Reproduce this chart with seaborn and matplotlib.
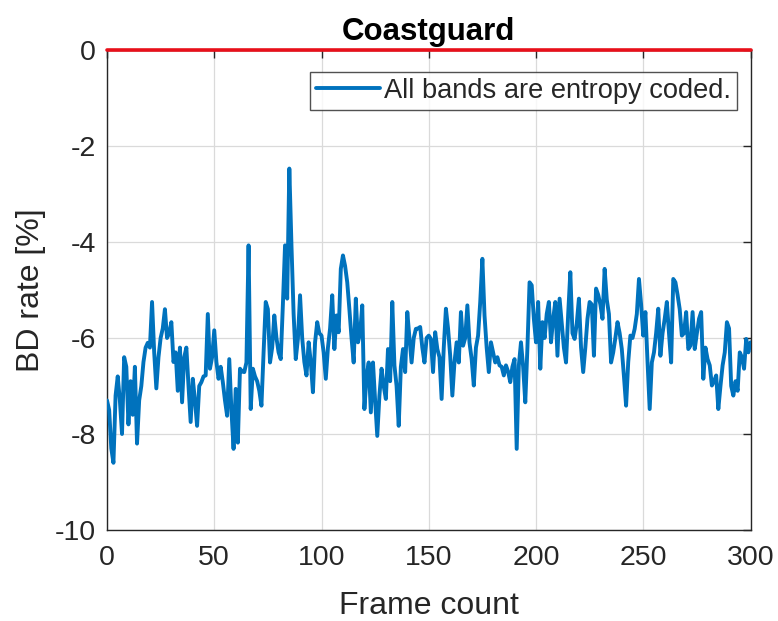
import numpy as np
import pandas as pd
import matplotlib
matplotlib.use("Agg")
import matplotlib.pyplot as plt
import seaborn as sns

title = "Coastguard"
xlabel = "Frame count"
ylabel = "BD rate [%]"
legend_label = "All bands are entropy coded."
xticks = [0, 50, 100, 150, 200, 250, 300]
yticks = [0, -2, -4, -6, -8, -10]

frames = list(range(0, 301))
bd_rate = [
    -7.3, -7.5, -8.3, -8.6, -7.2, -6.8, -7.3, -8.0, -6.4, -6.6,
    -7.8, -6.9, -7.6, -6.6, -8.2, -7.3, -7.0, -6.5, -6.2, -6.1,
    -6.2, -5.25, -6.3, -7.05, -6.4, -6.0, -5.8, -5.4, -6.0, -5.9,
    -5.67, -6.5, -6.3, -7.1, -6.2, -7.34, -6.4, -6.2, -7.0, -7.75,
    -6.85, -7.3, -7.83, -7.0, -6.92, -6.8, -6.78, -5.5, -6.64, -6.4,
    -5.84, -6.5, -6.85, -6.6, -6.92, -7.3, -7.62, -6.44, -7.5, -8.31,
    -7.06, -8.18, -6.64, -6.7, -6.71, -6.51, -4.07, -7.48, -6.64, -6.8,
    -6.9, -7.1, -7.41, -6.3, -5.25, -5.4, -6.51, -6.2, -5.53, -6.0,
    -6.3, -6.44, -5.3, -4.07, -5.18, -2.47, -4.07, -5.5, -6.44, -6.02,
    -5.11, -6.0, -6.5, -6.78, -6.09, -6.5, -7.13, -6.09, -5.67, -5.9,
    -5.95, -6.3, -6.85, -6.2, -5.8, -5.11, -6.23, -5.53, -5.88, -4.56,
    -4.28, -4.5, -4.84, -5.4, -6.0, -6.51, -5.18, -6.09, -5.9, -5.32,
    -7.48, -6.8, -6.51, -7.55, -6.51, -7.3, -8.04, -7.2, -6.64, -7.0,
    -7.27, -6.23, -6.9, -5.25, -6.57, -7.0, -7.83, -6.6, -6.23, -6.71,
    -5.46, -6.0, -6.51, -6.0, -5.81, -5.8, -5.77, -6.2, -6.51, -6.0,
    -5.95, -6.02, -6.71, -5.88, -6.23, -6.4, -7.27, -6.2, -5.39, -5.8,
    -6.37, -7.2, -6.5, -6.09, -6.51, -5.46, -6.16, -6.0, -5.32, -6.1,
    -6.44, -6.99, -6.2, -5.95, -5.25, -4.35, -5.53, -6.2, -6.71, -6.09,
    -6.3, -6.51, -6.4, -6.57, -6.6, -6.78, -6.57, -6.7, -6.92, -6.6,
    -6.44, -8.31, -6.57, -6.09, -6.6, -7.34, -6.2, -4.84, -4.9, -5.6,
    -6.09, -5.25, -6.64, -5.67, -6.0, -5.5, -5.25, -6.09, -5.6, -5.25,
    -6.37, -5.18, -5.7, -6.2, -6.51, -5.5, -4.63, -5.9, -6.02, -5.7,
    -5.18, -6.2, -6.71, -6.2, -5.6, -5.25, -5.3, -6.37, -4.97, -5.1,
    -5.3, -5.6, -4.56, -5.2, -5.5, -6.51, -6.3, -6.0, -5.67, -5.9,
    -6.23, -6.8, -7.41, -6.5, -5.95, -6.0, -5.81, -5.5, -4.77, -5.3,
    -5.95, -5.46, -6.5, -7.48, -6.51, -6.3, -5.9, -5.39, -6.37, -5.9,
    -5.6, -5.25, -5.9, -6.51, -4.77, -4.84, -5.1, -5.4, -5.95, -5.9,
    -5.46, -6.23, -6.16, -5.46, -6.23, -5.9, -5.6, -5.46, -6.85, -6.2,
    -6.44, -6.57, -6.99, -6.9, -6.78, -7.48, -7.0, -6.57, -6.3, -5.67,
    -5.8, -7.0, -7.2, -6.9, -7.1, -6.3, -6.4, -6.64, -6.02, -6.3, -6.09,
]
reference_line = [0.0, 0.0]
reference_x = [0, 300]

sns.set_theme(style="white")
plt.rcParams["font.family"] = ["Liberation Sans", "DejaVu Sans"]
plt.rcParams["axes.unicode_minus"] = False

df = pd.DataFrame({"frame": frames, "bd": bd_rate})

fig = plt.figure(figsize=(7.78, 6.21), dpi=100)
ax = fig.add_axes([107 / 778, 1 - 530 / 621, (750.5 - 107) / 778, 480 / 621])

sns.lineplot(data=df, x="frame", y="bd", ax=ax, color="#0072BD",
             linewidth=2.8, label=legend_label, zorder=3)
ax.plot(reference_x, reference_line, color="#E8101A", linewidth=2.6,
        clip_on=False, zorder=5)

ax.set_xlim(0, 300)
ax.set_ylim(-10, 0)
ax.set_xticks(xticks)
ax.set_yticks(yticks)
ax.grid(True, color="#DADADA", linewidth=0.9)
ax.tick_params(axis="both", direction="in", length=6, width=1.0,
               labelsize=20.5, colors="#262626",
               top=True, right=True, labeltop=False, labelright=False)
ax.tick_params(axis="x", pad=11)
ax.tick_params(axis="y", pad=8)
for s in ax.spines.values():
    s.set_color("#262626")
    s.set_linewidth(1.0)

ax.set_xlabel(xlabel, fontsize=23, color="#262626", labelpad=14)
ax.set_ylabel(ylabel, fontsize=23, color="#262626", labelpad=6)
ax.set_title(title, fontsize=22.5, fontweight="bold", color="black", pad=7)

leg = ax.legend(loc="upper right", bbox_to_anchor=((737 - 107) / 643.5, (530 - 72) / 480),
                borderaxespad=0, fontsize=19.6, frameon=True, fancybox=False,
                handlelength=2.35, handletextpad=0.15, borderpad=0.22)
leg.get_frame().set_edgecolor("#262626")
leg.get_frame().set_linewidth(1.0)
for t in leg.get_texts():
    t.set_color("#262626")

fig.savefig("out.png", dpi=100)
